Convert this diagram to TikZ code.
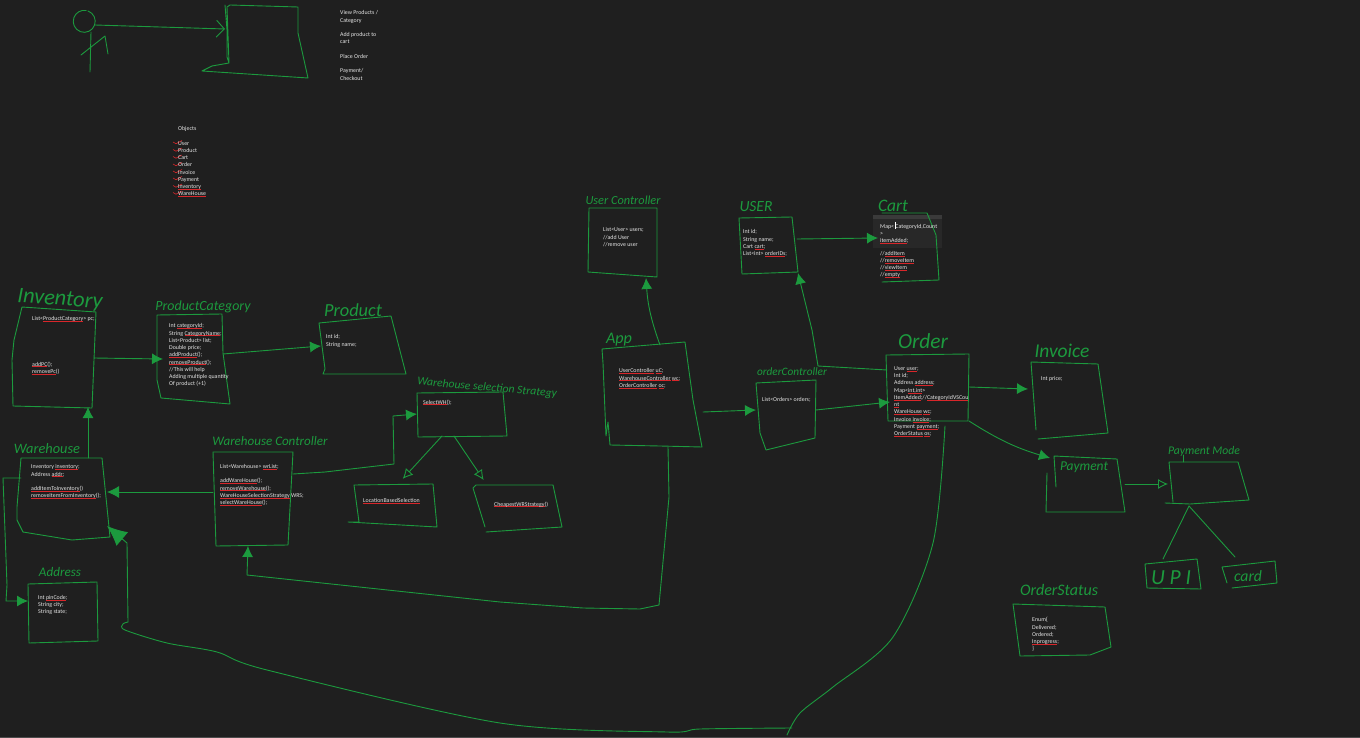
\documentclass[tikz,border=0pt]{standalone}
\usepackage{fontspec}
\setmainfont{Carlito}
\usetikzlibrary{arrows.meta}
\definecolor{board}{HTML}{1F1F1F}
\definecolor{pen}{HTML}{1C9A3E}
\definecolor{ink}{HTML}{E6E6E6}
\definecolor{squiggle}{HTML}{D8262A}
\newcommand{\redu}[1]{\leavevmode\sbox0{#1}\rlap{\textcolor{squiggle}{\rule[-1pt]{\wd0}{0.6pt}}}\box0\relax}
\newcommand{\hand}[2]{\resizebox{#1}{!}{\itshape #2}}
\tikzset{
	sketch/.style={draw=pen, line width=0.9pt, line join=round, line cap=round},
	head/.style={sketch, -{Latex[length=11pt,width=11pt]}},
	bighead/.style={sketch, -{Latex[length=20pt,width=18pt]}},
	openhead/.style={sketch, -{Straight Barb[length=8pt,width=17pt]}},
	hollowhead/.style={sketch, -{Latex[open,fill=board,length=10pt,width=10pt]}},
	hit/.style={inner sep=0pt, outer sep=0pt},
	code/.style={text=ink, inner sep=0pt, anchor=north west, align=left, yshift=-2pt, font=\fontsize{5.9}{7.25}\selectfont},
	title/.style={text=pen, inner sep=0pt}
}
\begin{document}
\begin{tikzpicture}[x=1pt, y=-1pt]
		\fill[board] (0,0) rectangle (1360,738);
		\useasboundingbox (0,0) rectangle (1360,738);
		\draw[black!70!white, line width=0.6pt] (0,737) -- (1360,737);

		\node[hit, minimum width=22pt, minimum height=22pt] (actor) at (84,22) {};
		\node[hit, minimum width=74pt, minimum height=48pt] (system) at (262,29) {};
		\node[hit, minimum width=82pt, minimum height=98pt] (inventory) at (53,358) {};
		\node[hit, minimum width=66pt, minimum height=86pt] (category) at (190,359) {};
		\node[hit, minimum width=80pt, minimum height=56pt] (product) at (362,346) {};
		\node[hit, minimum width=86pt, minimum height=68pt] (warehouse) at (64,492) {};
		\node[hit, minimum width=70pt, minimum height=36pt] (address) at (63,601) {};
		\node[hit, minimum width=80pt, minimum height=108pt] (whcontroller) at (253,492) {};
		\node[hit, minimum width=86pt, minimum height=44pt] (strategy) at (460,414) {};
		\node[hit, minimum width=80pt, minimum height=42pt] (location) at (393,505) {};
		\node[hit, minimum width=88pt, minimum height=46pt] (cheapest) at (517,508) {};
		\node[hit, minimum width=100pt, minimum height=102pt] (app) at (653,396) {};
		\node[hit, minimum width=68pt, minimum height=70pt] (usercontroller) at (623,243) {};
		\node[hit, minimum width=60pt, minimum height=60pt] (ordercontroller) at (786,410) {};
		\node[hit, minimum width=82pt, minimum height=72pt] (order) at (928,390) {};
		\node[hit, minimum width=58pt, minimum height=56pt] (user) at (768,245) {};
		\node[hit, minimum width=64pt, minimum height=68pt] (cart) at (910,247) {};
		\node[hit, minimum width=78pt, minimum height=76pt] (invoice) at (1069,400) {};
		\node[hit, minimum width=78pt, minimum height=56pt] (payment) at (1086,484) {};
		\node[hit, minimum width=78pt, minimum height=44pt] (mode) at (1207,484) {};
		\node[hit, minimum width=54pt, minimum height=30pt] (upi) at (1172,574) {};
		\node[hit, minimum width=54pt, minimum height=34pt] (card) at (1249,574) {};

		\fill[white!4!board] (873,215) rectangle (942,248);
		\fill[white!12!board] (873,215) rectangle (942,219);

		\draw[sketch] (88,11) arc (-70:280:11);
		\draw[sketch] (91,32) -- (90,72);
		\draw[sketch] (81,55) -- (105,36) -- (108,54);
		\draw[sketch] (225,5) -- (227,30) -- (227,57) -- (229,63) -- (212,66) -- (202,71) -- (308,78) -- (298,33) -- (298,7) -- (230,5) -- (227,7) -- (229,63);
		\draw[sketch] (22,307) -- (96,312) -- (92,408) -- (13,406) -- (12,360) -- (14,340) -- cycle;
		\draw[sketch] (157,315) -- (222,314) -- (223,353) -- (230,404) -- (161,398) -- (157,380) -- cycle;
		\draw[sketch] (319,323) -- (391,316) -- (406,374) -- (323,374) -- (325,369) -- cycle;
		\draw[sketch] (21,458) -- (102,458) -- (110,537) -- (72,540) -- (23,532) -- (17,520) -- (17,507) -- cycle;
		\draw[sketch] (28,584) -- (97,582) -- (98,641) -- (29,643) -- cycle;
		\draw[sketch] (213,452) -- (293,452) -- (288,545) -- (216,546) -- cycle;
		\draw[sketch] (417,393) -- (503,392) -- (507,436) -- (418,437) -- cycle;
		\draw[sketch] (354,485) -- (433,484) -- (437,527) -- (348,522) -- (359,522) -- cycle;
		\draw[sketch] (476,485) -- (553,485) -- (562,527) -- (486,532) (485,527) -- (473,488) -- (476,485);
		\draw[sketch] (602,349) -- (685,342) -- (693,400) -- (702,447) -- (660,446) -- (610,445) -- (608,422) -- (606,436) -- (603,363) -- cycle;
		\draw[sketch] (589,208) -- (657,208) -- (657,277) -- (588,272) -- cycle;
		\draw[sketch] (756,383) -- (816,380) -- (815,438) -- (766,450) -- (760,433) -- cycle;
		\draw[sketch] (886,355) -- (969,354) -- (968,421) -- (888,421) -- cycle;
		\draw[sketch] (739,218) -- (792,217) -- (798,272) -- (742,274) -- cycle;
		\draw[sketch] (882,213) -- (927,213) -- (936,235) -- (939,280) -- (882,282);
		\draw[sketch] (1031,362) -- (1098,364) -- (1108,433) -- (1038,439) (1036,430) -- (1031,362);
		\draw[sketch] (1054,456) -- (1117,459) -- (1125,512) -- (1046,512) -- (1047,473) (1054,456) -- (1056,487);
		\draw[sketch] (1169,462) -- (1238,462) -- (1249,500) -- (1190,504) -- (1165,503) (1169,462) -- (1173,502);
		\draw[sketch] (1183,462) -- (1183,455);
		\draw[sketch] (1145,564) -- (1197,559) -- (1201,589) -- (1147,588) -- cycle;
		\draw[sketch] (1222,567) -- (1275,561) -- (1277,583) -- (1232,588) (1222,567) -- (1227,583);
		\draw[sketch] (1013,604) -- (1105,607) -- (1111,647) -- (1090,655) -- (1020,656) -- cycle;

		\draw[openhead] ([yshift=-3pt]actor.east) -- (system.west);
		\draw[head] (inventory.east) -- ([xshift=6pt]category.west);
		\draw[head] ([yshift=5pt]category.east) -- ([xshift=-1pt]product.west);
		\draw[head] ([xshift=24pt]warehouse.north) -- ([xshift=35pt]inventory.south);
		\draw[sketch, -{Latex[length=12pt,width=12pt]}] (whcontroller.west) -- (warehouse.east);
		\draw[head] ([yshift=14pt]warehouse.west) -- (3,478) -- (7,585) -- (6,601) -- (address.west);
		\draw[head] ([yshift=18pt]whcontroller.east) -- (325,472) -- (394,464) -- (393,416) -- (strategy.west);
		\draw[hollowhead, shorten >=7pt] ([xshift=-18pt]strategy.south) -- ([xshift=5pt]location.north);
		\draw[hollowhead, shorten >=6pt] ([xshift=-6pt]strategy.south) -- ([xshift=-30pt]cheapest.north);
		\draw[head] ([xshift=7pt]app.north) to[bend left=8] ([xshift=23pt]usercontroller.south);
		\draw[head] ([yshift=-16pt]app.east) -- (ordercontroller.west);
		\draw[head] ([xshift=15pt]app.south) -- (669,497) -- (659,605) -- (640,609) -- (583,608) -- (500,602) -- (247,575) -- ([xshift=-5pt]whcontroller.south);
		\draw[head] (ordercontroller.east) -- ([yshift=-12pt,xshift=3pt]order.west);
		\draw[head] ([yshift=20pt]order.west) -- (818,366) -- (812,330) -- ([xshift=30pt]user.south);
		\draw[head] ([yshift=6pt]user.east) -- ([yshift=9pt]cart.west);
		\draw[head] ([yshift=3pt]order.east) -- ([yshift=11pt,xshift=-2pt]invoice.west);
		\draw[head] ([yshift=-31pt]order.east) to[bend right=8] ([yshift=26pt,xshift=3pt]payment.west);
		\draw[hollowhead] (payment.east) -- (mode.west);
		\draw[sketch] ([xshift=-18pt]mode.south) -- ([xshift=-9pt]upi.north);
		\draw[sketch] ([xshift=-18pt]mode.south) -- ([xshift=-14pt]card.north);

		\draw[sketch] plot[smooth, tension=0.5] coordinates {([xshift=17pt]order.south) (933,543) (893,637) (833,687) (800,713) (787,735)};
		\coordinate (linestart) at (792,728);
		\coordinate (lineend) at (128,622);
		\draw[sketch] plot[smooth, tension=0.5] coordinates {(linestart) (700,729) (667,732) (500,723) (267,670) (217,652) (167,643) (125,630) (123,624) (lineend)};
		\draw[bighead] (lineend) -- (127,543) -- (warehouse.south east);

		\foreach \y in {142.5,150,157,164.5,171.5,178.5,186,193}
			\draw[squiggle, line width=0.6pt] (173,\y-0.5) -- (176,\y+1.2) -- (182,\y-2);

		\node[code] (usecases) at (340,8.5) {View Products /\\Category\\[7.3pt]Add product to\\cart\\[7.3pt]Place Order\\[7.3pt]Payment/\\Checkout};
		\node[code] (objects) at (178,124) {Objects\\[7.6pt]User\\Product\\Cart\\Order\\Invoice\\Payment\\\redu{Inventory}\\\redu{WareHouse}};
		\node[code] (inventorytop) at (32,314.5) {List<\redu{ProductCategory}> pc;};
		\node[code] (inventorybottom) at (32,359.5) {\redu{addPC}();\\\redu{removePc}()};
		\node[code] (categorytext) at (169,321.5) {Int \redu{categoryId};\\String \redu{CategoryName};\\List<Product> list;\\Double price;\\\redu{addProduct}();\\\redu{removeProduct}();\\ //This will help\\ Adding multiple quantity\\ Of product (+1)};
		\node[code] (producttext) at (326,332.5) {Int id;\\String name;};
		\node[code] (warehousetext) at (31,462.5) {Inventory \redu{inventory};\\Address \redu{addr};\\ \mbox{}\\\redu{addItemToInventory}()\\\redu{removeItemFromInventory}();};
		\node[code] (addresstext) at (38,593) {Int \redu{pinCode};\\String city;\\String state;};
		\node[code] (controllertext) at (220,462) {List<Warehouse> \redu{wrList};\\ \mbox{}\\\redu{addWareHouse}();\\\redu{removeWarehouse}();\\\redu{WareHouseSelectionStrategy} WRS;\\\redu{selectWareHouse}();};
		\node[code] (strategytext) at (423,397.5) {\redu{SelectWH}();};
		\node[code] (locationtext) at (363,496.5) {\redu{LocationBasedSelection}};
		\node[code] (cheapesttext) at (494,499.5) {\redu{CheapestWRStrategy}()};
		\node[code] (usercontrollertext) at (603,225.5) {List<User> users;\\//add User\\//remove user};
		\node[code] (usertext) at (743,227.5) {Int id;\\String name;\\Cart \redu{cart};\\List<int> \redu{orderIDs};};
		\node[code] (carttext) at (880,222) {Map< CategoryId,Count\\>\\\redu{itemAdded};\\[5.2pt]//\redu{addItem}\\//\redu{removeItem}\\//\redu{viewItem}\\//\redu{empty}};
		\draw[white, line width=0.6pt] (895.5,222) -- (895.5,229.5);
		\node[code] (apptext) at (619,366.5) {\redu{UserController} \redu{uC};\\\redu{WarehouseController} \redu{wc};\\\redu{OrderController} \redu{oc};};
		\node[code] (ordercontrollertext) at (762,395.5) {List<Orders> orders;};
		\node[code] (ordertext) at (894,364.5) {User \redu{user};\\Int id;\\Address \redu{address};\\Map<\redu{int,int}>\\\redu{ItemAdded};//\redu{CategoryIdVSCou}\\\redu{nt}\\\redu{WareHouse} \redu{wc};\\Invoice \redu{invoice};\\Payment \redu{payment};\\\redu{OrderStatus} \redu{os};};
		\node[code] (invoicetext) at (1041,374.5) {Int price;};
		\node[code] (statustext) at (1032,615.5) {Enum\{\\Delivered;\\Ordered;\\\redu{Inprogress};\\\}};

		\node[title, rotate=-4] (inventorytitle) at (60,300) {\hand{85pt}{Inventory}};
		\node[title] (categorytitle) at (203,307) {\hand{95pt}{ProductCategory}};
		\node[title] (producttitle) at (353,310) {\hand{58pt}{Product}};
		\node[title] (warehousetitle) at (47,449) {\hand{66pt}{Warehouse}};
		\node[title] (addresstitle) at (60,572) {\hand{42pt}{Address}};
		\node[title] (controllertitle) at (270,441) {\hand{115pt}{Warehouse Controller}};
		\node[title, rotate=-5] (strategytitle) at (487,388) {\hand{140pt}{Warehouse selection Strategy}};
		\node[title] (usercontrollertitle) at (623,200) {\hand{75pt}{User Controller}};
		\node[title] (usertitle) at (756,207) {\hand{33pt}{USER}};
		\node[title] (carttitle) at (893,206) {\hand{30pt}{Cart}};
		\node[title] (apptitle) at (619,340) {\hand{26pt}{App}};
		\node[title] (ordercontrollertitle) at (792,372) {\hand{70pt}{orderController}};
		\node[title] (ordertitle) at (923,341) {\hand{50pt}{Order}};
		\node[title] (invoicetitle) at (1062,351) {\hand{55pt}{Invoice}};
		\node[title] (paymenttitle) at (1084,467) {\hand{48pt}{Payment}};
		\node[title] (modetitle) at (1204,451) {\hand{72pt}{Payment Mode}};
		\node[title] (upititle) at (1171,578) {\hand{40pt}{U P I}};
		\node[title] (cardtitle) at (1248,576) {\hand{28pt}{card}};
		\node[title] (statustitle) at (1059,590) {\hand{78pt}{OrderStatus}};
\end{tikzpicture}
\end{document}
